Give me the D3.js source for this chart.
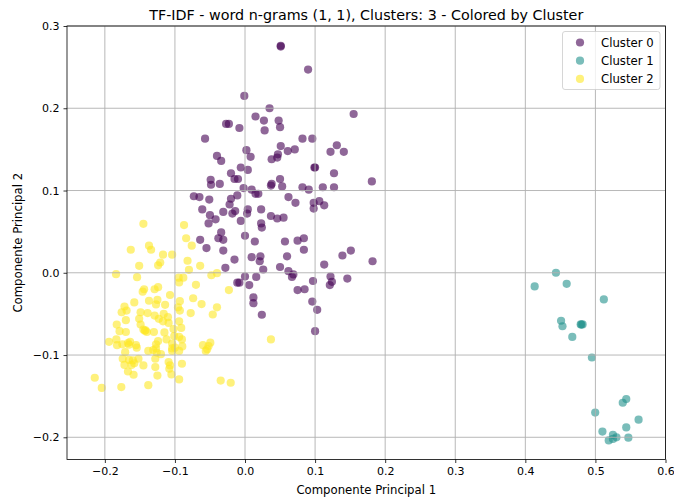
<!DOCTYPE html>
<html>
<head>
<meta charset="utf-8">
<script src="https://cdn.jsdelivr.net/npm/d3@7"></script>
<style>
  html, body { margin: 0; padding: 0; background: #fff; }
  svg text { font-family: "DejaVu Sans", sans-serif; fill: #000; }
</style>
</head>
<body>
<div id="chart"></div>
<script>
// ── Data ───────────────────────────────────────────────────────────────────
const TITLE = "TF-IDF - word n-grams (1, 1), Clusters: 3 - Colored by Cluster";
const X_LABEL = "Componente Principal 1";
const Y_LABEL = "Componente Principal 2";
const X_TICKS = [-0.2, -0.1, 0.0, 0.1, 0.2, 0.3, 0.4, 0.5, 0.6];
const Y_TICKS = [-0.2, -0.1, 0.0, 0.1, 0.2, 0.3];
const X_DOMAIN = [-0.254, 0.6];
const Y_DOMAIN = [-0.227, 0.3];
const CLUSTER_NAMES = ["Cluster 0", "Cluster 1", "Cluster 2"];
const CLUSTER_COLORS = ["#440154", "#21918c", "#fde725"];

const cluster0 = [
  [0.051,0.275],[0.051,0.276],[0.090,0.247],[-0.001,0.215],[0.035,0.200],[0.155,0.193],
  [0.015,0.190],[0.027,0.185],[0.048,0.185],[-0.027,0.181],[-0.023,0.181],[-0.008,0.176],
  [0.050,0.177],[0.028,0.173],[-0.057,0.163],[0.082,0.163],[0.096,0.163],[0.051,0.154],
  [0.131,0.155],[0.002,0.149],[0.061,0.148],[0.071,0.150],[0.122,0.147],[0.141,0.147],
  [-0.040,0.142],[0.008,0.141],[0.047,0.144],[-0.034,0.136],[0.038,0.138],[0.046,0.140],
  [0.099,0.128],[0.100,0.128],[-0.020,0.121],[-0.006,0.128],[0.004,0.125],[-0.015,0.114],
  [-0.010,0.114],[0.127,0.121],[0.050,0.114],[-0.049,0.113],[0.181,0.111],[-0.036,0.108],
  [0.038,0.108],[0.037,0.106],[-0.0485,0.107],[-0.002,0.103],[0.053,0.105],[0.082,0.104],
  [0.091,0.101],[0.111,0.104],[0.127,0.104],[0.0095,0.101],[0.015,0.096],[0.019,0.096],
  [-0.073,0.093],[-0.065,0.092],[-0.051,0.089],[-0.020,0.090],[-0.011,0.094],[-0.022,0.083],
  [0.062,0.092],[0.072,0.085],[0.098,0.085],[0.106,0.087],[0.113,0.082],[0.098,0.078],
  [-0.061,0.077],[-0.031,0.074],[-0.018,0.072],[-0.014,0.075],[0.003,0.072],[0.004,0.077],
  [0.023,0.077],[-0.050,0.070],[-0.042,0.065],[-0.052,0.060],[-0.006,0.063],[0.037,0.069],
  [0.046,0.066],[0.055,0.067],[0.023,0.060],[0.024,0.055],[-0.034,0.049],[-0.038,0.042],
  [-0.031,0.040],[0.000,0.045],[0.014,0.038],[-0.064,0.040],[-0.055,0.030],[-0.031,0.027],
  [0.057,0.038],[0.075,0.039],[0.084,0.042],[0.084,0.028],[0.060,0.020],[0.0095,0.019],
  [0.022,0.020],[0.021,0.014],[-0.015,0.016],[-0.028,0.006],[0.026,0.004],[0.050,0.007],
  [0.062,0.002],[0.069,-0.002],[0.067,-0.005],[0.139,0.021],[0.151,0.027],[0.113,0.010],
  [0.182,0.014],[0.000,-0.0045],[0.016,-0.005],[-0.011,-0.012],[-0.008,-0.012],[0.006,-0.015],
  [0.097,-0.010],[0.122,-0.0045],[0.121,-0.015],[0.124,-0.011],[0.146,-0.007],[0.075,-0.021],
  [0.085,-0.020],[0.012,-0.030],[0.012,-0.037],[0.096,-0.035],[0.103,-0.045],[0.024,-0.051],
  [0.100,-0.071]
];

const cluster1 = [
  [0.4437,0.000],[0.4133,-0.0166],[0.459,-0.0134],[0.512,-0.0324],[0.451,-0.0583],
  [0.453,-0.065],[0.479,-0.0628],[0.4817,-0.0628],[0.480,-0.063],[0.467,-0.078],
  [0.495,-0.103],[0.544,-0.1536],[0.539,-0.158],[0.4997,-0.170],[0.5616,-0.1786],
  [0.544,-0.188],[0.510,-0.193],[0.525,-0.197],[0.530,-0.200],[0.519,-0.2038],
  [0.525,-0.202],[0.547,-0.2005]
];

const cluster2 = [
  [-0.145,0.0595],[-0.087,0.058],[-0.084,0.042],[-0.076,0.033],[-0.163,0.028],[-0.137,0.033],
  [-0.134,0.028],[-0.117,0.022],[-0.104,0.022],[-0.121,0.0125],[-0.124,0.009],[-0.151,0.0085],
  [-0.082,0.0146],[-0.064,0.0085],[-0.080,0.0036],[-0.184,-0.0017],[-0.154,-0.0053],
  [-0.0946,-0.006],[-0.088,-0.006],[-0.094,-0.0118],[-0.048,-0.003],[-0.040,-0.0005],
  [-0.070,-0.0146],[-0.144,-0.020],[-0.146,-0.023],[-0.129,-0.020],[-0.124,-0.0175],
  [-0.023,-0.021],[-0.107,-0.027],[-0.074,-0.031],[-0.158,-0.036],[-0.172,-0.041],
  [-0.137,-0.034],[-0.125,-0.033],[-0.127,-0.0385],[-0.114,-0.039],[-0.093,-0.0345],
  [-0.062,-0.038],[-0.040,-0.042],[-0.169,-0.046],[-0.176,-0.048],[-0.0956,-0.042],
  [-0.093,-0.046],[-0.0775,-0.049],[-0.046,-0.0507],[-0.149,-0.048],[-0.139,-0.049],
  [-0.151,-0.056],[-0.170,-0.0576],[-0.129,-0.052],[-0.123,-0.056],[-0.116,-0.050],
  [-0.110,-0.054],[-0.117,-0.059],[-0.109,-0.061],[-0.183,-0.063],[-0.179,-0.071],
  [-0.170,-0.072],[-0.149,-0.063],[-0.145,-0.069],[-0.140,-0.072],[-0.143,-0.0705],
  [-0.142,-0.070],[-0.130,-0.072],[-0.115,-0.0725],[-0.102,-0.0685],[-0.094,-0.059],
  [-0.091,-0.067],[-0.101,-0.077],[-0.094,-0.078],[-0.090,-0.081],[-0.112,-0.081],
  [-0.104,-0.086],[-0.124,-0.083],[-0.127,-0.087],[-0.127,-0.092],[-0.194,-0.084],
  [-0.1836,-0.081],[-0.1826,-0.088],[-0.175,-0.087],[-0.167,-0.0855],[-0.164,-0.084],
  [-0.1655,-0.0875],[-0.1555,-0.088],[-0.1545,-0.091],[-0.104,-0.092],[-0.100,-0.091],
  [-0.0895,-0.0895],[-0.094,-0.095],[-0.104,-0.095],[-0.138,-0.095],[-0.131,-0.094],
  [-0.126,-0.097],[-0.120,-0.099],[-0.060,-0.088],[-0.0495,-0.085],[-0.052,-0.089],
  [-0.056,-0.095],[-0.054,-0.093],[-0.171,-0.0965],[-0.1745,-0.1045],[-0.1655,-0.106],
  [-0.160,-0.1065],[-0.152,-0.1045],[-0.172,-0.112],[-0.162,-0.112],[-0.158,-0.110],
  [-0.145,-0.1126],[-0.128,-0.1045],[-0.128,-0.1147],[-0.109,-0.1086],[-0.107,-0.1126],
  [-0.108,-0.1167],[-0.090,-0.1106],[-0.167,-0.120],[-0.159,-0.124],[-0.125,-0.125],
  [-0.105,-0.1236],[-0.094,-0.1297],[-0.2144,-0.1276],[-0.2044,-0.140],[-0.1765,-0.139],
  [-0.138,-0.1366],[-0.0347,-0.131],[-0.0204,-0.1337],[0.037,-0.081]
];

const CLUSTERS = [cluster0, cluster1, cluster2];

// ── Layout ──────────────────────────────────────────────────────────────────
const totalW = 674, totalH = 502;
const margin = { top: 26, right: 8.5, bottom: 42.5, left: 67 };
const W = totalW - margin.left - margin.right;
const H = totalH - margin.top - margin.bottom;

const svg = d3.select("#chart").append("svg")
  .attr("width", totalW)
  .attr("height", totalH);

const g = svg.append("g").attr("transform", `translate(${margin.left},${margin.top})`);

const xScale = d3.scaleLinear().domain(X_DOMAIN).range([0, W]);
const yScale = d3.scaleLinear().domain(Y_DOMAIN).range([H, 0]);
const fmt = d3.format(".1f");

// Points (cluster 0 first, so later clusters sit on top)
CLUSTERS.forEach(function (pts, ci) {
  g.append("g")
    .selectAll("circle")
    .data(pts)
    .join("circle")
    .attr("cx", d => xScale(d[0]))
    .attr("cy", d => yScale(d[1]))
    .attr("r", 4.1)
    .attr("fill", CLUSTER_COLORS[ci])
    .attr("fill-opacity", 0.6);
});

// Grid (matplotlib draws it above the scatter collection)
const grid = g.append("g").attr("class", "grid");
X_TICKS.forEach(function (v) {
  grid.append("line")
    .attr("x1", xScale(v)).attr("x2", xScale(v))
    .attr("y1", 0).attr("y2", H)
    .attr("stroke", "#b0b0b0").attr("stroke-width", 0.9);
});
Y_TICKS.forEach(function (v) {
  grid.append("line")
    .attr("x1", 0).attr("x2", W)
    .attr("y1", yScale(v)).attr("y2", yScale(v))
    .attr("stroke", "#b0b0b0").attr("stroke-width", 0.9);
});

// Axes
const xAxis = g.append("g")
  .attr("transform", `translate(0,${H})`)
  .call(d3.axisBottom(xScale).tickValues(X_TICKS).tickFormat(fmt).tickSize(3.5).tickPadding(4));
const yAxis = g.append("g")
  .call(d3.axisLeft(yScale).tickValues(Y_TICKS).tickFormat(fmt).tickSize(3.5).tickPadding(4));

[xAxis, yAxis].forEach(function (ax) {
  ax.select(".domain").remove();
  ax.selectAll(".tick line").attr("stroke", "#000").attr("stroke-width", 0.8);
  ax.selectAll(".tick text")
    .attr("font-size", 11)
    .attr("font-family", "'DejaVu Sans', sans-serif")
    .attr("fill", "#000");
});

// Frame
g.append("rect")
  .attr("x", 0).attr("y", 0)
  .attr("width", W).attr("height", H)
  .attr("fill", "none")
  .attr("stroke", "#000")
  .attr("stroke-width", 0.8);

// Title & axis labels
svg.append("text")
  .attr("x", margin.left + W / 2)
  .attr("y", 20)
  .attr("text-anchor", "middle")
  .attr("font-size", 14.3)
  .text(TITLE);

svg.append("text")
  .attr("x", margin.left + W / 2)
  .attr("y", 493.5)
  .attr("text-anchor", "middle")
  .attr("font-size", 11.7)
  .text(X_LABEL);

svg.append("text")
  .attr("transform", `translate(22,${margin.top + H / 2}) rotate(-90)`)
  .attr("text-anchor", "middle")
  .attr("font-size", 11.7)
  .text(Y_LABEL);

// Legend
const lg = svg.append("g").attr("transform", "translate(562.5,31.5)");
lg.append("rect")
  .attr("width", 97.5).attr("height", 58)
  .attr("rx", 2.5)
  .attr("fill", "#fff").attr("fill-opacity", 0.8)
  .attr("stroke", "#cccccc").attr("stroke-width", 0.8);

CLUSTER_NAMES.forEach(function (name, i) {
  const yy = 11 + i * 18.2;
  lg.append("circle")
    .attr("cx", 17.5).attr("cy", yy)
    .attr("r", 4.1)
    .attr("fill", CLUSTER_COLORS[i])
    .attr("fill-opacity", 0.6);
  lg.append("text")
    .attr("x", 38.5).attr("y", yy)
    .attr("dominant-baseline", "central")
    .attr("font-size", 11.7)
    .text(name);
});
</script>
</body>
</html>
